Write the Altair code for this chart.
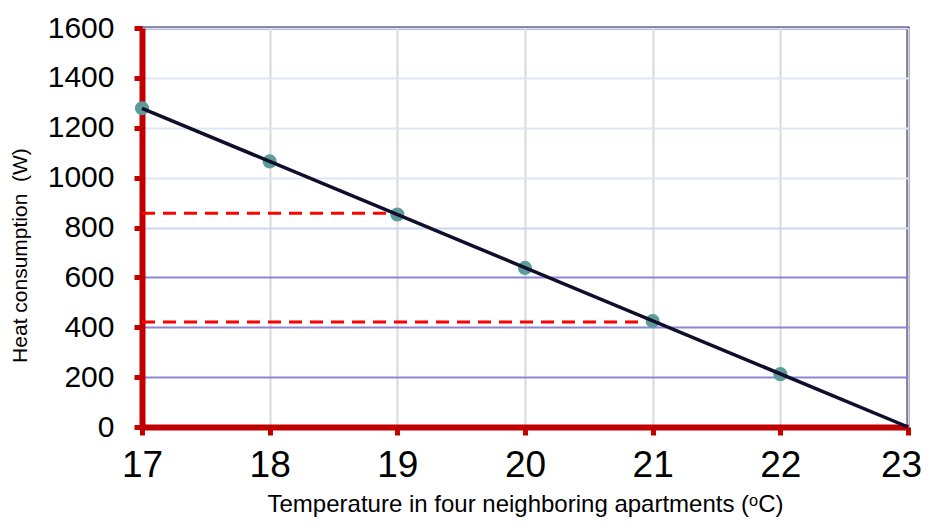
import altair as alt
import pandas as pd

# ---- data ----
temps = [17, 18, 19, 20, 21, 22]
heat = [1278, 1065, 852, 638, 425, 212]

fit_x = [17, 23]
fit_y = [1278, 0]

guide_start = [17, 17]
guide_end = [19, 21]
guide_y = [857, 421]

x_ticks = [17, 18, 19, 20, 21, 22, 23]
y_ticks = [0, 200, 400, 600, 800, 1000, 1200, 1400, 1600]

pts = pd.DataFrame({"x": temps, "y": heat})
fit = pd.DataFrame({"x": fit_x, "y": fit_y})
guides = pd.DataFrame({"x": guide_start, "xe": guide_end, "y": guide_y})

FONT = "Liberation Sans"
RED = "#c00000"

x_enc = alt.X(
    "x:Q",
    scale=alt.Scale(domain=[17, 23], nice=False, zero=False),
    axis=alt.Axis(
        values=x_ticks,
        format="d",
        title="Temperature in four neighboring apartments (\u1d52C)",
        titleFontSize=24,
        titleFont=FONT,
        titleFontWeight="normal",
        titleColor="black",
        titleBaseline="alphabetic",
        titleY=84,
        labelFontSize=37,
        labelFont=FONT,
        labelColor="black",
        labelPadding=12,
        labelOffset={"condition": {"test": "datum.value == 23", "value": -7}, "value": 0},
        domainColor=RED,
        domainWidth=6,
        tickColor=RED,
        tickWidth=5,
        tickSize=8,
        gridColor="#d9d9d9",
        gridWidth=2,
        labelFlush=False,
    ),
)

y_enc = alt.Y(
    "y:Q",
    scale=alt.Scale(domain=[0, 1600], nice=False),
    axis=alt.Axis(
        values=y_ticks,
        format="d",
        title="Heat consumption\u00a0\u00a0(W)",
        titleFontSize=21,
        titleFont=FONT,
        titleFontWeight="normal",
        titleColor="black",
        titleAngle=270,
        titleAlign="center",
        titleBaseline="middle",
        titleX=-122,
        titleY=227,
        labelFontSize=30,
        labelFont=FONT,
        labelColor="black",
        labelPadding=20,
        domainColor=RED,
        domainWidth=6,
        tickColor=RED,
        tickWidth=5,
        tickSize=8,
        gridColor=alt.ExprRef(
            expr="datum.value <= 600 ? '#8c86d6' : (datum.value == 800 ? '#c6d8f0' : '#dde7f5')"
        ),
        gridWidth=1.8,
        labelFlush=False,
    ),
)

guide_layer = alt.Chart(guides).mark_rule(
    color="#ff0000", strokeWidth=3, strokeDash=[13, 8]
).encode(x=x_enc, x2="xe:Q", y=y_enc)

point_layer = alt.Chart(pts).mark_circle(
    color="#5e9c9a", opacity=1, size=200
).encode(x=x_enc, y=y_enc)

line_layer = alt.Chart(fit).mark_line(
    color="#0f0f2d", strokeWidth=3.5
).encode(x=x_enc, y=y_enc)

chart = (
    alt.layer(guide_layer, point_layer, line_layer)
    .properties(
        width=766,
        height=399,
        autosize=alt.AutoSizeParams(type="none"),
        padding={"left": 134, "top": 20, "right": 15, "bottom": 91},
        background="white",
    )
    .configure_view(stroke="#241f5a", strokeWidth=3)
)

chart.save("out.html", embed_options={"renderer": "svg", "actions": False})
